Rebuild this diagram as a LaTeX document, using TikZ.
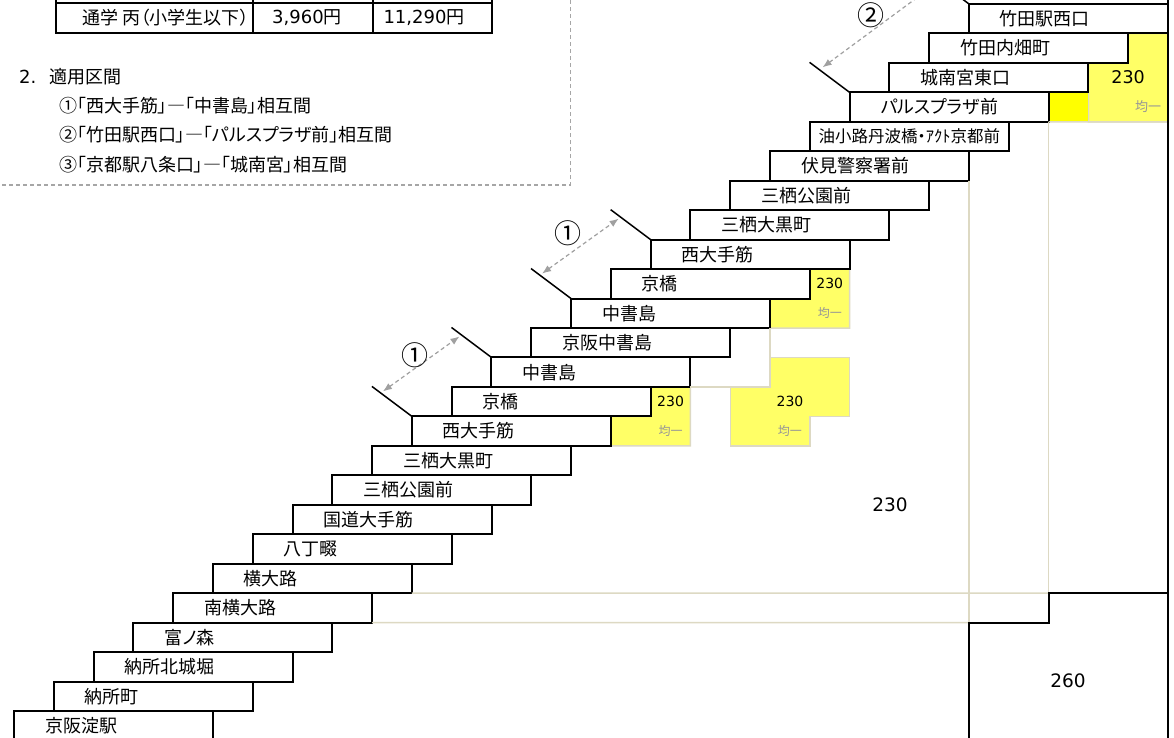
\documentclass[tikz,border=0pt]{standalone}
\usepackage{fontspec}
\setmainfont{Noto Sans CJK JP}[RawFeature=+palt]
\newfontfamily\numfont{DejaVu Sans}
\usetikzlibrary{arrows.meta,calc}
\definecolor{beige}{RGB}{221,217,195}
\definecolor{ylwL}{RGB}{255,255,102}
\definecolor{ylwB}{RGB}{255,255,0}
\definecolor{arrgray}{RGB}{160,160,160}
\definecolor{bordergray}{RGB}{166,166,166}
\definecolor{kingray}{RGB}{150,150,150}
\pgfdeclarelayer{bg}
\pgfsetlayers{bg,main}
\begin{document}
\begin{tikzpicture}[x=1pt,y=-1pt,
  stn/.style={draw, line width=2pt, fill=white, minimum width=199pt, minimum height=29.46pt, inner xsep=0pt, inner ysep=0pt, outer sep=0pt, text width=137pt, align=left, anchor=north west, font=\fontsize{18}{20}\selectfont},
  stnlong/.style={stn, text width=199pt, align=center, font=\fontsize{16.5}{18}\selectfont},
  ylw/.style={fill=ylwL, draw=beige, line width=1.5pt},
  bline/.style={draw=beige, line width=1.5pt},
  kline/.style={draw=black, line width=2pt},
  cutline/.style={draw=black, line width=1.5pt},
  darr/.style={draw=arrgray, line width=1.2pt, dash pattern=on 4pt off 3pt, {Latex[length=9pt,width=7pt]}-{Latex[length=9pt,width=7pt]}},
  fare/.style={font=\numfont\fontsize{14}{16}\selectfont},
  kin/.style={text=kingray, font=\fontsize{12}{14}\selectfont},
  bigfare/.style={font=\numfont\fontsize{18.5}{21}\selectfont},
  circlab/.style={font=\fontsize{27}{29}\selectfont},
  txt/.style={font=\fontsize{18}{20}\selectfont, inner sep=0pt, anchor=west},
  tbl/.style={draw=black, line width=2pt},
  dbord/.style={draw=bordergray, line width=1pt, dash pattern=on 4pt off 3pt}
]
\useasboundingbox (0,0) rectangle (1174,738);
\begin{pgfonlayer}{bg}
\fill[white] (0,0) rectangle (1174,738);
\end{pgfonlayer}
\clip (0,0) rectangle (1174,738);
\coordinate (top) at (0,-10);
\coordinate (bot) at (0,748);

% stations
\foreach \i/\nm in {0/京阪淀駅,1/納所町,2/納所北城堀,3/富ノ森,4/南横大路,5/横大路,6/八丁畷,7/国道大手筋,8/三栖公園前,9/三栖大黒町,10/西大手筋,11/京橋,12/中書島,13/京阪中書島,14/中書島,15/京橋,16/西大手筋,17/三栖大黒町,18/三栖公園前,19/伏見警察署前,21/パルスプラザ前,22/城南宮東口,23/竹田内畑町,24/竹田駅西口}
  \node[stn] (s\i) at ({14+39.79*\i},{711-29.46*\i}) {\nm};
\node[stnlong] (s20) at ({14+39.79*20},{711-29.46*20}) {油小路丹波橋・ｱｸﾄ京都前};

% yellow fare areas
\begin{pgfonlayer}{bg}
\draw[ylw] (s11.north east) -- (s12.south east) -- (s12.east |- s9.north) -- (s10.south east) -- (s10.north east) -- (s11.south east) -- cycle;
\draw[ylw] (s14.east |- s12.north) -- (s16.east |- s12.north) -- (s16.east |- s10.north) -- (s15.east |- s10.north) -- (s15.east |- s9.north) -- (s13.east |- s9.north) -- (s13.east |- s11.north) -- (s14.east |- s11.north) -- cycle;
\draw[ylw] (s15.north east) -- (s16.south east) -- (s16.east |- s13.north) -- (s14.south east) -- (s14.north east) -- (s15.south east) -- cycle;
\draw[ylw] (s23.north east) -- (s24.south east) -- (s24.east |- s20.north) -- (s22.east |- s20.north) -- (s22.north east) -- (s23.south east) -- cycle;
\fill[ylwB] (s21.north east) rectangle (s22.east |- s20.north);
\end{pgfonlayer}

% beige grid lines
\draw[bline] (s14.south east) -- (s14.east |- s11.north) -- (s12.east |- s11.north);
\draw[bline] (s21.south east) -- (s24.east |- s20.north);
\draw[bline] (s21.south east) -- (s21.east |- s4.north);
\draw[bline] (s5.south east) -- (s21.east |- s4.north);
\draw[bline] (s19.south east) -- (s19.east |- s3.north);
\draw[bline] (s4.south east) -- (s19.east |- s3.north);

% black boundary lines
\draw[kline] (s24.east |- top) -- (s24.east |- bot);
\draw[kline] (s24.east |- s4.north) -- (s21.east |- s4.north) -- (s21.east |- s3.north) -- (s19.east |- s3.north) -- (s19.east |- bot);

% fare labels
\node[fare] (f1) at ($(s11.north east)!0.5!(s12.east |- s10.north)$) {230};
\node[kin] (k1) at ($(s11.east |- s10.north)!0.5!(s12.east |- s9.north)$) {均一};
\node[fare] (f2) at ($(s14.east |- s11.north)!0.5!(s15.east |- s10.north)$) {230};
\node[kin] (k2) at ($(s14.east |- s10.north)!0.5!(s15.east |- s9.north)$) {均一};
\node[fare] (f3) at ($(s15.north east)!0.5!(s16.east |- s14.north)$) {230};
\node[kin] (k3) at ($(s15.east |- s14.north)!0.5!(s16.east |- s13.north)$) {均一};
\node[fare, font=\numfont\fontsize{17.5}{19}\selectfont] (f4) at ($(s22.east |- s22.north)!0.5!(s24.east |- s21.north)$) {230};
\node[kin, font=\fontsize{13}{15}\selectfont] (k4) at ($(s23.east |- s21.north)!0.5!(s24.east |- s20.north)$) {均一};
\node[bigfare] (f5) at (890,505) {230};
\node[bigfare] (f6) at (1068,681) {260};

% section marks
\draw[cutline] (s10.north west) -- ++(-40,-30);
\draw[cutline] (s12.north west) -- ++(-40,-30);
\draw[cutline] (s14.north west) -- ++(-40,-30);
\draw[cutline] (s16.north west) -- ++(-40,-30);
\draw[cutline] (s21.north west) -- ++(-40,-30);
\draw[cutline] (s24.north west) -- ++(-40,-30);
\coordinate (a1) at ($(s10.north west)+(-29,-25)$);
\coordinate (b1) at ($(s12.north west)+(-32,-21)$);
\coordinate (a2) at ($(s14.north west)+(-29,-25)$);
\coordinate (b2) at ($(s16.north west)+(-32,-21)$);
\coordinate (a3) at ($(s21.north west)+(-27,-25)$);
\coordinate (b3) at ($(s24.north west)+(-32,-21)$);
\draw[darr] (a1) -- (b1);
\draw[darr] (a2) -- (b2);
\draw[darr] (a3) -- (b3);
\node[circlab] (c1) at (415,355) {①};
\node[circlab] (c2) at (568,233) {①};
\node[circlab] (c3) at (871,15) {②};

% table remnant
\draw[tbl] (56,-5) -- (56,33) -- (492,33) -- (492,-5);
\draw[tbl] (56,3) -- (492,3);
\draw[tbl] (253,-5) -- (253,33);
\draw[tbl] (373,-5) -- (373,33);
\node[txt, anchor=east] (t1) at (249,18) {通学 丙（小学生以下）};
\node[txt, anchor=center] (t2) at (307,18) {{\numfont 3,960}円};
\node[txt, anchor=center] (t3) at (424,18) {{\numfont 11,290}円};

% section text
\node[txt] (h2) at (19,77) {{\numfont 2.}\hspace{13pt}適用区間};
\node[txt] (l1) at (59,106) {①「西大手筋」―「中書島」相互間};
\node[txt] (l2) at (59,135) {②「竹田駅西口」―「パルスプラザ前」相互間};
\node[txt] (l3) at (59,165) {③「京都駅八条口」―「城南宮」相互間};
\draw[dbord] (-5,185) -- (570,185) -- (570,-5);
\end{tikzpicture}
\end{document}
